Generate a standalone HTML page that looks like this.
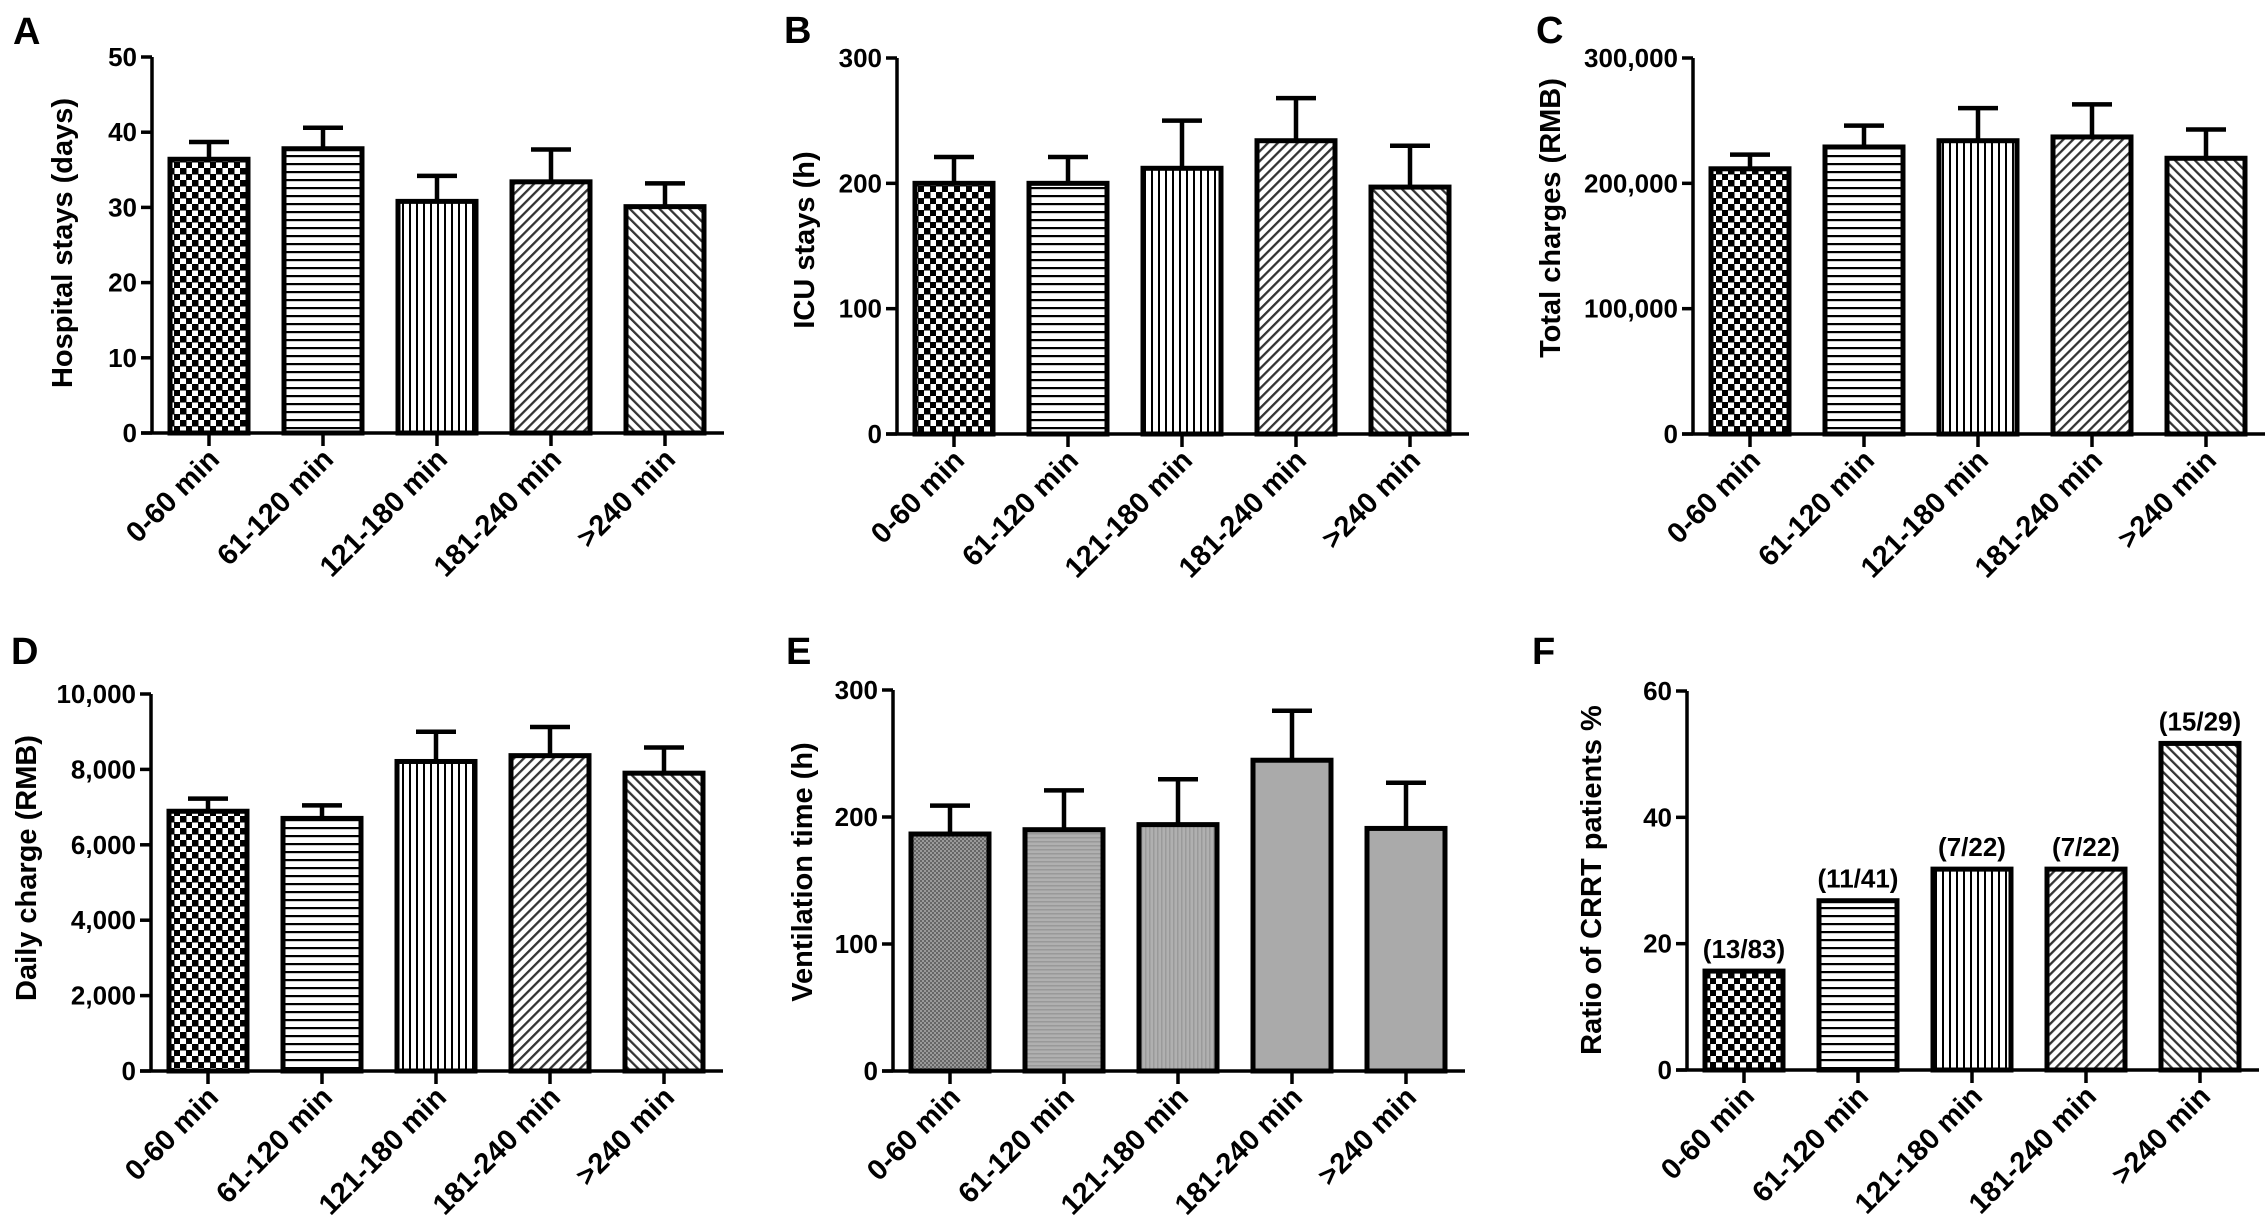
<!DOCTYPE html>
<html><head><meta charset="utf-8"><style>
html,body{margin:0;padding:0;background:#fff;}
svg{display:block;font-family:"Liberation Sans",Arial,sans-serif;font-weight:bold;}
</style></head><body>
<svg id="fig" width="2268" height="1222" viewBox="0 0 2268 1222" xmlns="http://www.w3.org/2000/svg">
<defs>
<pattern id="p-check" width="12" height="12" patternUnits="userSpaceOnUse"><rect width="12" height="12" fill="#fff"/><rect x="0" y="0" width="6.5" height="6.5" fill="#000"/><rect x="6" y="6" width="6.5" height="6.5" fill="#000"/></pattern>
<pattern id="p-hor" width="8" height="8" patternUnits="userSpaceOnUse"><rect width="8" height="8" fill="#fff"/><rect y="3" width="8" height="2.2" fill="#000"/></pattern>
<pattern id="p-ver" width="7" height="7" patternUnits="userSpaceOnUse"><rect width="7" height="7" fill="#fff"/><rect x="3" width="2" height="7" fill="#000"/></pattern>
<pattern id="p-fwd" width="7" height="7" patternUnits="userSpaceOnUse" patternTransform="rotate(45)"><rect width="7" height="7" fill="#fff"/><rect x="2.5" width="2.3" height="7" fill="#333"/></pattern>
<pattern id="p-bwd" width="7" height="7" patternUnits="userSpaceOnUse" patternTransform="rotate(-45)"><rect width="7" height="7" fill="#fff"/><rect x="2.5" width="2.3" height="7" fill="#333"/></pattern>
<pattern id="p-gcheck" width="4" height="4" patternUnits="userSpaceOnUse"><rect width="4" height="4" fill="#9a9a9a"/><rect width="2" height="2" fill="#666"/><rect x="2" y="2" width="2" height="2" fill="#666"/></pattern>
<pattern id="p-ghor" width="4" height="4" patternUnits="userSpaceOnUse"><rect width="4" height="4" fill="#b0b0b0"/><rect y="1" width="4" height="1.5" fill="#999"/></pattern>
<pattern id="p-gver" width="4" height="4" patternUnits="userSpaceOnUse"><rect width="4" height="4" fill="#b0b0b0"/><rect x="1" width="1.5" height="4" fill="#9a9a9a"/></pattern>
</defs>
</svg>
<script>
const categories = ["0-60 min","61-120 min","121-180 min","181-240 min",">240 min"];
const hospitalMeans = [36.4, 37.8, 30.8, 33.4, 30.1];
const hospitalErr = [38.7, 40.6, 34.2, 37.7, 33.2];
const hospitalTicks = [0,10,20,30,40,50];
const icuMeans = [200, 200, 212, 234, 197];
const icuErr = [221, 221, 250, 268, 230];
const icuTicks = [0,100,200,300];
const totalMeans = [211600, 229000, 234000, 237000, 220000];
const totalErr = [222900, 246000, 260000, 263000, 243000];
const totalTicks = [0,100000,200000,300000];
const dailyMeans = [6890, 6700, 8210, 8365, 7900];
const dailyErr = [7226, 7046, 8998, 9124, 8580];
const dailyTicks = [0,2000,4000,6000,8000,10000];
const ventMeans = [186.6, 190, 194, 244.7, 191];
const ventErr = [209, 221, 229.7, 283.7, 227];
const ventTicks = [0,100,200,300];
const crrtMeans = [15.66, 26.8, 31.8, 31.8, 51.7];
const crrtLabels = ["(13/83)","(11/41)","(7/22)","(7/22)","(15/29)"];
const crrtTicks = [0,20,40,60];

const NS = "http://www.w3.org/2000/svg";
const svg = document.getElementById('fig');
function mk(tag, attrs, parent){const e=document.createElementNS(NS,tag);for(const k in attrs)e.setAttribute(k,attrs[k]);(parent||svg).appendChild(e);return e;}
function fmt(v){return v.toLocaleString('en-US');}

const bwPatterns = ["url(#p-check)","url(#p-hor)","url(#p-ver)","url(#p-fwd)","url(#p-bwd)"];
const grayPatterns = ["url(#p-gcheck)","url(#p-ghor)","url(#p-gver)","#aaaaaa","#aaaaaa"];

function panel(o){
  const g = mk('g',{});
  
  
  const max = o.ticks[o.ticks.length-1];
  const y = v => o.zero - (v/max)*(o.zero - o.top);
  const bx = i => o.ax + 18 + i*114;
  const L = mk('text',{x:o.lx,y:o.ly,'font-size':38},g); L.textContent=o.letter;
  
  
  const T = mk('text',{x:0,y:0,'font-size':29,'text-anchor':'middle',transform:`translate(${o.tx},${o.ty}) rotate(-90)`},g);
  T.textContent=o.title;
  
  
  o.means.forEach((m,i)=>{
    const x=bx(i), w=78, top=y(m);
    if(o.err){
      const ey=y(o.err[i]);
      const e=mk('path',{d:`M${x+w/2} ${top} V${ey} M${x+w/2-20} ${ey} H${x+w/2+20}`,stroke:'#000','stroke-width':4.5,fill:'none'},g);
      
      
    }
    const r=mk('rect',{x:x,y:top,width:w,height:o.zero-top,fill:o.fills[i],stroke:'#000','stroke-width':5},g);
    
    
    if(o.labels){
      const t=mk('text',{x:x+w/2,y:top-13,'font-size':26,'text-anchor':'middle'},g);
      t.textContent=o.labels[i];
      
      
    }
    const cx=x+w/2;
    mk('line',{x1:cx,y1:o.zero,x2:cx,y2:o.zero+13,stroke:'#000','stroke-width':3.5},g);
    const c=mk('text',{x:0,y:0,'font-size':29,'text-anchor':'end',transform:`translate(${cx+12},${o.zero+28}) rotate(-45)`},g);
    c.textContent=categories[i];
    
    
  });
  const ya=mk('line',{x1:o.ax,y1:o.top,x2:o.ax,y2:o.zero,stroke:'#000','stroke-width':3.5},g);
  
  
  const xa=mk('line',{x1:o.ax-11,y1:o.zero,x2:o.ax+572,y2:o.zero,stroke:'#000','stroke-width':3.5},g);
  
  
  o.ticks.forEach(t=>{
    const ty=y(t);
    mk('line',{x1:o.ax-11,y1:ty,x2:o.ax,y2:ty,stroke:'#000','stroke-width':3.5},g);
    const tl=mk('text',{x:o.ax-15,y:ty+9,'font-size':26,'text-anchor':'end'},g);
    tl.textContent=fmt(t);
    
    
  });
}

panel({name:'panel-a-hospital-stays',letter:'A',lx:13,ly:44,ax:152,top:57,zero:433,tx:72,ty:243,title:'Hospital stays (days)',means:hospitalMeans,err:hospitalErr,ticks:hospitalTicks,fills:bwPatterns});
panel({name:'panel-b-icu-stays',letter:'B',lx:784,ly:43,ax:897,top:58,zero:434,tx:814,ty:240,title:'ICU stays (h)',means:icuMeans,err:icuErr,ticks:icuTicks,fills:bwPatterns});
panel({name:'panel-c-total-charges',letter:'C',lx:1536,ly:43,ax:1693,top:58,zero:434,tx:1560,ty:218,title:'Total charges (RMB)',means:totalMeans,err:totalErr,ticks:totalTicks,fills:bwPatterns});
panel({name:'panel-d-daily-charge',letter:'D',lx:11,ly:664,ax:151,top:694,zero:1071,tx:36,ty:868,title:'Daily charge (RMB)',means:dailyMeans,err:dailyErr,ticks:dailyTicks,fills:bwPatterns});
panel({name:'panel-e-ventilation-time',letter:'E',lx:786,ly:664,ax:893,top:690,zero:1071,tx:812,ty:872,title:'Ventilation time (h)',means:ventMeans,err:ventErr,ticks:ventTicks,fills:grayPatterns});
panel({name:'panel-f-crrt-ratio',letter:'F',lx:1532,ly:664,ax:1687,top:691,zero:1070,tx:1601,ty:880,title:'Ratio of CRRT patients %',means:crrtMeans,labels:crrtLabels,ticks:crrtTicks,fills:bwPatterns});
</script>
</body></html>
